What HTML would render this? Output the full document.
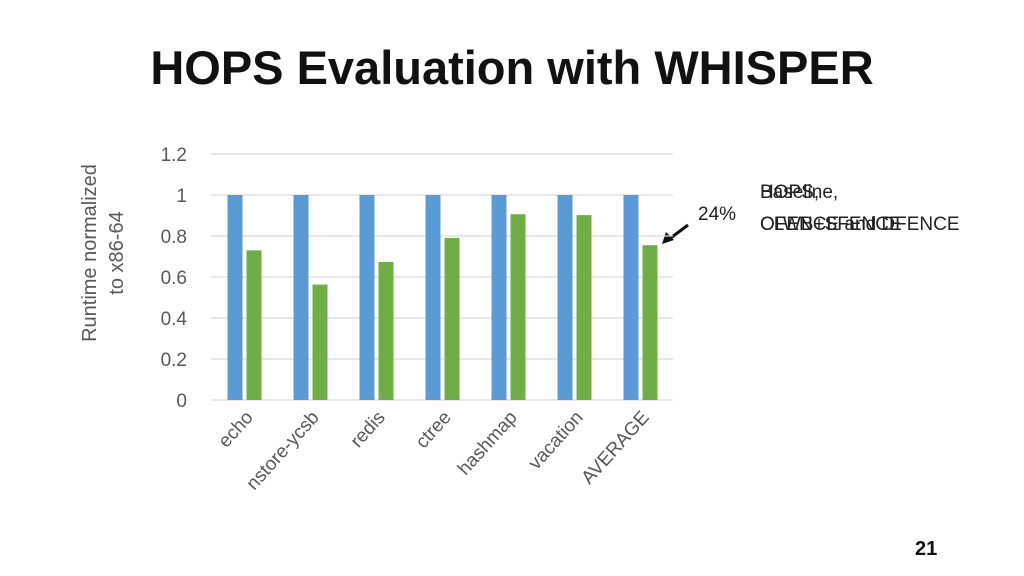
<!DOCTYPE html>
<html><head><meta charset="utf-8"><style>
body{margin:0;width:1024px;height:576px;background:#fff;font-family:"Liberation Sans",sans-serif;overflow:hidden;position:relative}
</style></head><body>
<div style="position:absolute;left:0;top:40px;width:1024px;text-align:center;font-size:47px;font-weight:bold;color:#111">HOPS Evaluation with WHISPER</div>
<div style="position:absolute;left:915px;top:538px;font-size:20px;font-weight:bold;color:#111">21</div>
<svg id="chart" width="1024" height="576" style="position:absolute;left:0;top:0">
<text transform="translate(100,253) rotate(-90)" text-anchor="middle" font-size="20" fill="#595959"><tspan x="0" dy="-4">Runtime normalized</tspan><tspan x="0" dy="27">to x86-64</tspan></text>
<text x="698" y="220" font-size="19" fill="#222">24%</text>
<line x1="688" y1="225" x2="668" y2="240" stroke="#111" stroke-width="3"/>
<polygon points="662,244 666,232 674,240" fill="#111"/>
<text x="760" y="198" font-size="19" fill="#222">Baseline,</text>
<text x="760" y="230" font-size="19" fill="#222">CLWB+SFENCE</text>
<text x="760" y="198" font-size="19" fill="#222">HOPS,</text>
<text x="760" y="230" font-size="19" fill="#222">OFENCE and DFENCE</text>
</svg>
<script>
const categories=["echo","nstore-ycsb","redis","ctree","hashmap","vacation","AVERAGE"];
const baseline=[1,1,1,1,1,1,1];
const hops=[0.73,0.563,0.673,0.79,0.906,0.902,0.755];
const ticks=[0,0.2,0.4,0.6,0.8,1,1.2];
const tickLabels=["0","0.2","0.4","0.6","0.8","1","1.2"];
const svg=document.getElementById('chart');
const NS='http://www.w3.org/2000/svg';
const x0=211,x1=673,y0=400,yTop=154;
const y=v=>y0-(v/1.2)*(y0-yTop);
const gw=(x1-x0)/categories.length;
function mk(t,a){const e=document.createElementNS(NS,t);for(const k in a)e.setAttribute(k,a[k]);svg.appendChild(e);return e;}
ticks.forEach((t,i)=>{
  const g=mk('line',{x1:x0,x2:x1,y1:y(t),y2:y(t),stroke:'#d9d9d9','stroke-width':1.3});
  
  
  const l=mk('text',{x:187,y:y(t)+7,'text-anchor':'end','font-size':19,fill:'#595959'});
  l.textContent=tickLabels[i];
  
  
});
categories.forEach((c,i)=>{
  const gx=x0+i*gw;
  const b=mk('rect',{x:gx+16.5,y:y(baseline[i]),width:15,height:y0-y(baseline[i]),fill:'#5b9bd5'});
  
  
  const h=mk('rect',{x:gx+35.5,y:y(hops[i]),width:15,height:y0-y(hops[i]),fill:'#70ad47'});
  
  
  const cx=gx+gw/2+10, ty=418;
  const t=mk('text',{x:cx,y:ty,'text-anchor':'end','font-size':19,fill:'#595959',transform:`rotate(-48 ${cx} ${ty})`});
  t.textContent=c;
  
  
});
</script>
</body></html>
